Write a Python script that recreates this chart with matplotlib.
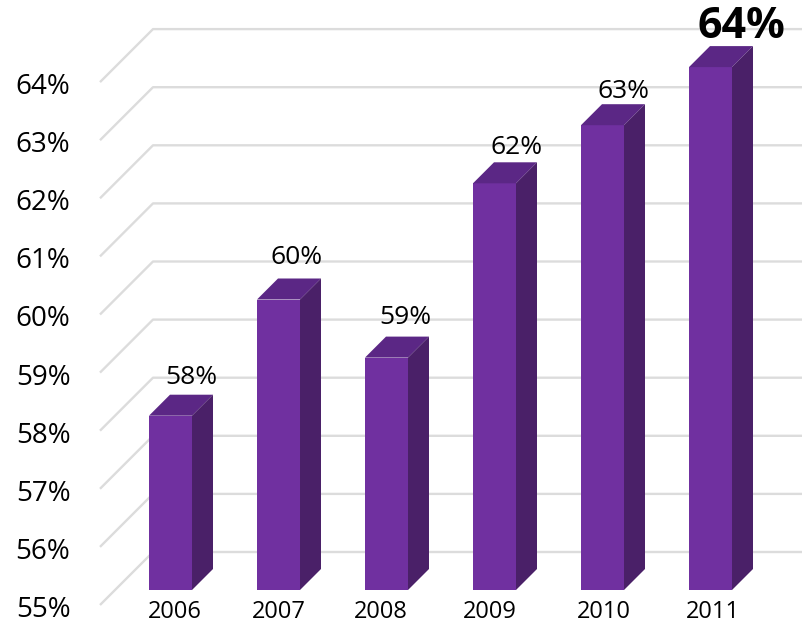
import matplotlib
matplotlib.use('Agg')
import matplotlib.pyplot as plt
from matplotlib.patches import Polygon, Rectangle

years = ['2006', '2007', '2008', '2009', '2010', '2011']
values = [58, 60, 59, 62, 63, 64]
tick_values = [55, 56, 57, 58, 59, 60, 61, 62, 63, 64]
bar_labels = ['58%', '60%', '59%', '62%', '63%', '64%']

plt.rcParams['font.family'] = ['Open Sans', 'DejaVu Sans']

fig = plt.figure(figsize=(8.05, 6.23), dpi=100)
ax = fig.add_axes([0, 0, 1, 1])
ax.set_xlim(0, 805)
ax.set_ylim(623, 0)
ax.axis('off')


# value to pixel height on the front face of the bars
def y_pos(v):
    return 590 - (v - 55) * 58.1


dx, dy = 21, 21
grid_col = '#dcdcdc'

# floor offset of the wall lines from the bar front
for t in tick_values:
    y = y_pos(t) + 15
    ax.plot([100, 153, 802], [y, y - 53, y - 53],
            color=grid_col, lw=1.7, solid_capstyle='butt', zorder=1)
    ax.text(43, y + 5, f'{t}%', fontsize=20, ha='center', va='center', color='black')

bar_x = [149, 257, 365, 473, 581, 689]
bar_w = 43
year_x = [175, 279, 381, 490, 604, 713]
label_x = [191, 297, 405, 517, 623, 741]
label_y = [377, 258, 317, 148, 92, 27]

for i, v in enumerate(values):
    x = bar_x[i]
    top = y_pos(v)
    ax.add_patch(Rectangle((x, top), bar_w, 590 - top, fc='#7030A0', ec='none', zorder=3))
    ax.add_patch(Polygon([(x, top), (x + dx, top - dy), (x + bar_w + dx, top - dy), (x + bar_w, top)],
                         fc='#5B2785', ec='none', zorder=3))
    ax.add_patch(Polygon([(x + bar_w, top), (x + bar_w + dx, top - dy), (x + bar_w + dx, 590 - dy), (x + bar_w, 590)],
                         fc='#4A2068', ec='none', zorder=3))
    ax.text(year_x[i], 612, years[i], fontsize=17, ha='center', va='center', color='black', zorder=4)
    if years[i] == '2011':
        ax.text(label_x[i], label_y[i], bar_labels[i], fontsize=31, fontweight='bold',
                ha='center', va='center', zorder=4)
    else:
        ax.text(label_x[i], label_y[i], bar_labels[i], fontsize=19, ha='center', va='center', zorder=4)

fig.savefig('out.png', dpi=100)
